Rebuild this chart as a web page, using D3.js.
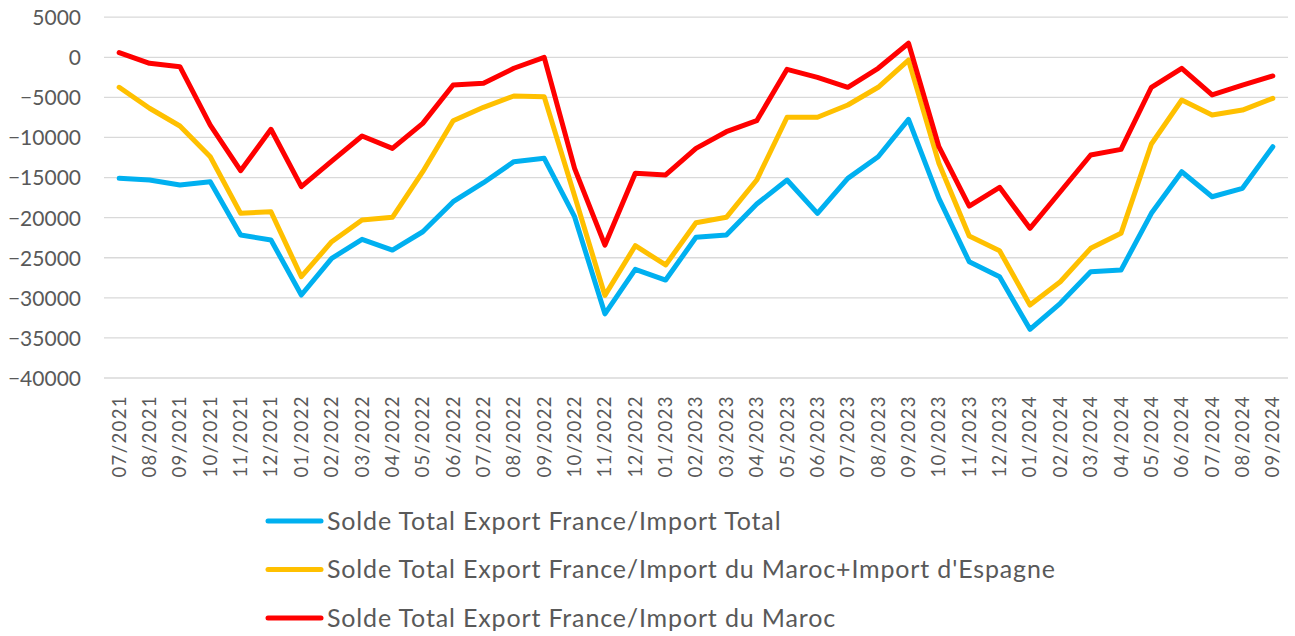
<!DOCTYPE html>
<html><head><meta charset="utf-8">
<script src="https://cdn.jsdelivr.net/npm/d3@7"></script>
<style>body{margin:0;background:#fff;} svg{display:block;}</style>
</head><body>
<svg id="chart" width="1295" height="636"></svg>
<script>
const months = ["07/2021","08/2021","09/2021","10/2021","11/2021","12/2021","01/2022","02/2022","03/2022","04/2022","05/2022","06/2022","07/2022","08/2022","09/2022","10/2022","11/2022","12/2022","01/2023","02/2023","03/2023","04/2023","05/2023","06/2023","07/2023","08/2023","09/2023","10/2023","11/2023","12/2023","01/2024","02/2024","03/2024","04/2024","05/2024","06/2024","07/2024","08/2024","09/2024"];
const soldeTotal = [-15100,-15310,-15930,-15520,-22170,-22790,-29650,-25080,-22700,-24040,-21760,-18010,-15640,-13020,-12600,-19880,-32000,-26450,-27780,-22450,-22170,-18300,-15310,-19460,-15100,-12400,-7740,-17600,-25500,-27370,-33930,-30690,-26750,-26540,-19460,-14270,-17390,-16340,-11150];
const soldeMarocEspagne = [-3740,-6360,-8570,-12400,-19460,-19260,-27370,-23000,-20300,-19960,-14270,-7910,-6240,-4830,-4910,-17260,-29700,-23500,-25900,-20630,-19960,-15310,-7480,-7480,-5950,-3740,-340,-13220,-22300,-24130,-30900,-27990,-23830,-21960,-10820,-5330,-7200,-6580,-5120];
const soldeMaroc = [580,-750,-1170,-8450,-14150,-8980,-16140,-12940,-9820,-11360,-8240,-3460,-3250,-1370,0,-13850,-23420,-14470,-14680,-11360,-9280,-7910,-1500,-2500,-3740,-1370,1750,-11150,-18550,-16220,-21330,-16770,-12190,-11480,-3740,-1370,-4700,-3460,-2330];
const yTicks = [5000,0,-5000,-10000,-15000,-20000,-25000,-30000,-35000,-40000];
const seriesNames = ["Solde Total Export France/Import Total","Solde Total Export France/Import du Maroc+Import d'Espagne","Solde Total Export France/Import du Maroc"];
const seriesColors = ["#00B0F0","#FFC000","#FF0000"];

const series = [soldeTotal, soldeMarocEspagne, soldeMaroc];
const svg = d3.select("#chart");
const font = "Lato, 'Open Sans', sans-serif";
const plotLeft = 104, plotRight = 1288, plotTop = 17.2, plotBottom = 378;

const x = d3.scaleBand().domain(months).range([plotLeft, plotRight]);
const y = d3.scaleLinear().domain([-40000, 5000]).range([plotBottom, plotTop]);

// gridlines
svg.append("g").selectAll("line").data(yTicks).join("line")
  .attr("x1", plotLeft).attr("x2", plotRight)
  .attr("y1", d => y(d)).attr("y2", d => y(d))
  .attr("stroke", "#d9d9d9").attr("stroke-width", 1.3);

// y axis labels
const yAxis = d3.axisLeft(y).tickValues(yTicks).tickSize(0).tickPadding(0).tickFormat(d3.format("d"));
const gy = svg.append("g").attr("transform", `translate(${plotLeft - 23},0)`).call(yAxis);
gy.select(".domain").remove();
gy.selectAll("text").attr("font-family", font).attr("font-size", 21).attr("fill", "#595959").attr("dy", "0.35em");

// x axis labels
const xAxis = d3.axisBottom(x).tickSize(0).tickPadding(0);
const gx = svg.append("g").attr("transform", `translate(0,${plotBottom + 17})`).call(xAxis);
gx.select(".domain").remove();
gx.selectAll("text")
  .attr("font-family", font).attr("font-size", 18.5).attr("fill", "#595959")
  .attr("letter-spacing", "1.4px")
  .attr("text-anchor", "end").attr("transform", "rotate(-90)")
  .attr("x", 0).attr("y", 0).attr("dy", "0.35em");

// lines
const line = d3.line().x((d, i) => x(months[i]) + x.bandwidth() / 2).y(d => y(d));
series.forEach((s, k) => {
  svg.append("path").datum(s).attr("d", line)
    .attr("fill", "none").attr("stroke", seriesColors[k]).attr("stroke-width", 5)
    .attr("stroke-linejoin", "round").attr("stroke-linecap", "round");
});

// legend
const legendY = [521, 569.5, 618];
const lg = svg.append("g");
seriesNames.forEach((name, k) => {
  lg.append("line").attr("x1", 268).attr("x2", 321).attr("y1", legendY[k]).attr("y2", legendY[k])
    .attr("stroke", seriesColors[k]).attr("stroke-width", 5).attr("stroke-linecap", "round");
  lg.append("text").attr("x", 327).attr("y", legendY[k]).attr("dy", "0.35em")
    .attr("font-family", font).attr("font-size", 25).attr("letter-spacing", "0.85px")
    .attr("fill", "#595959").text(name);
});
</script>
</body></html>
